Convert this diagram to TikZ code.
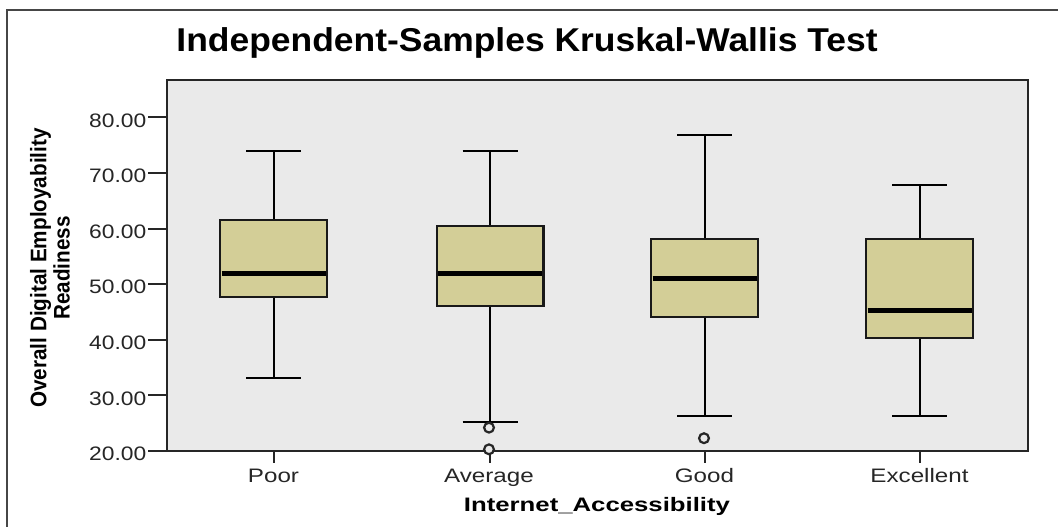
\documentclass[tikz,border=0pt]{standalone}
\usepackage{fontspec}
\setmainfont{Liberation Sans}
\usepackage{graphicx}
\definecolor{plotbg}{RGB}{234,234,234}
\definecolor{boxfill}{RGB}{211,206,151}
\definecolor{framegray}{RGB}{70,70,70}
\begin{document}
\begin{tikzpicture}[x=1pt,y=-1pt,
  frameline/.style={draw=framegray,line width=1.5pt},
  axisline/.style={draw=black!85,line width=2pt},
  whisker/.style={draw=black,line width=2pt},
  iqrbox/.style={draw=black!90,fill=boxfill,line width=2.4pt},
  medianline/.style={draw=black,line width=5pt},
  outlier/.style={draw=black!85,fill=plotbg,line width=2.2pt},
  ticklabel/.style={font=\fontsize{19.5}{22}\selectfont,text=black!85,inner sep=0pt},
  catlabel/.style={font=\fontsize{19.5}{22}\selectfont,text=black!85,inner sep=0pt,anchor=base},
  datascale/.style={y=5.562pt,yshift=-562.24pt},
]
\useasboundingbox (0,0) rectangle (1058,527);
\fill[white] (0,0) rectangle (1058,527);
% outer chart frame
\draw[frameline] (7,530) -- (7,10) -- (1060,10);
% title
\node[anchor=base,inner sep=0pt,font=\bfseries\fontsize{33}{36}\selectfont] (title) at (527,52)
  {\scalebox{1.074}[1]{Independent-Samples Kruskal-Wallis Test}};
% plot area
\fill[plotbg] (167,80) rectangle (1028,451);
% data scope: x in px, y in score units
\begin{scope}[datascale]
  % y ticks and labels
  \foreach \v in {20,30,...,80}{
    \draw[axisline] (148,\v) -- (167,\v);
    \node[ticklabel,anchor=east] (yl\v) at (146.5,\v-0.55) {\scalebox{1.17}[1]{\v.00}};
  }
  % boxes: centre, lower whisker, q1, median, q3, upper whisker
  \foreach \c/\lo/\qa/\md/\qc/\hi in {
      273.5/33.1/47.7/52.0/61.5/74.0,
      490/25.3/46.1/52.0/60.45/74.0,
      704.5/26.3/44.1/51.1/58.1/76.9,
      919.5/26.3/40.3/45.2/58.1/67.8}{
    \draw[whisker] (\c,\qc) -- (\c,\hi);
    \draw[whisker] (\c,\qa) -- (\c,\lo);
    \draw[whisker] (\c-27.5,\hi) -- (\c+27.5,\hi);
    \draw[whisker] (\c-27.5,\lo) -- (\c+27.5,\lo);
    \draw[iqrbox] (\c-53.3,\qa) rectangle (\c+53.3,\qc);
    \draw[medianline] (\c-52,\md) -- (\c+52,\md);
    \draw[axisline] (\c,20) -- (\c,17.85);
  }
\end{scope}
% plot border
\draw[axisline] (167,80) rectangle (1028,451);
% outliers
\begin{scope}[datascale]
  \draw[outlier] (489,24.2) circle[radius=4.9pt];
  \draw[outlier] (489,20.3) circle[radius=4.9pt];
  \draw[outlier] (704,22.3) circle[radius=4.9pt];
\end{scope}
% category labels
\node[catlabel] (cpoor) at (273.5,482) {\scalebox{1.24}[1]{Poor}};
\node[catlabel] (cavg) at (489,482) {\scalebox{1.24}[1]{Average}};
\node[catlabel] (cgood) at (704.5,482) {\scalebox{1.24}[1]{Good}};
\node[catlabel] (cexc) at (919.5,482) {\scalebox{1.24}[1]{Excellent}};
% axis titles
\node[anchor=base,inner sep=0pt,font=\bfseries\fontsize{19.5}{22}\selectfont] (xtitle) at (597,511)
  {\scalebox{1.32}[1]{Internet\_Accessibility}};
\node[rotate=90,inner sep=0pt,font=\bfseries\fontsize{18}{20}\selectfont] (ytitle) at (53,268)
  {\scalebox{1.15}[1.25]{\begin{tabular}{@{}c@{}}Overall Digital Employability\\[-1.5pt]Readiness\end{tabular}}};
\end{tikzpicture}
\end{document}
